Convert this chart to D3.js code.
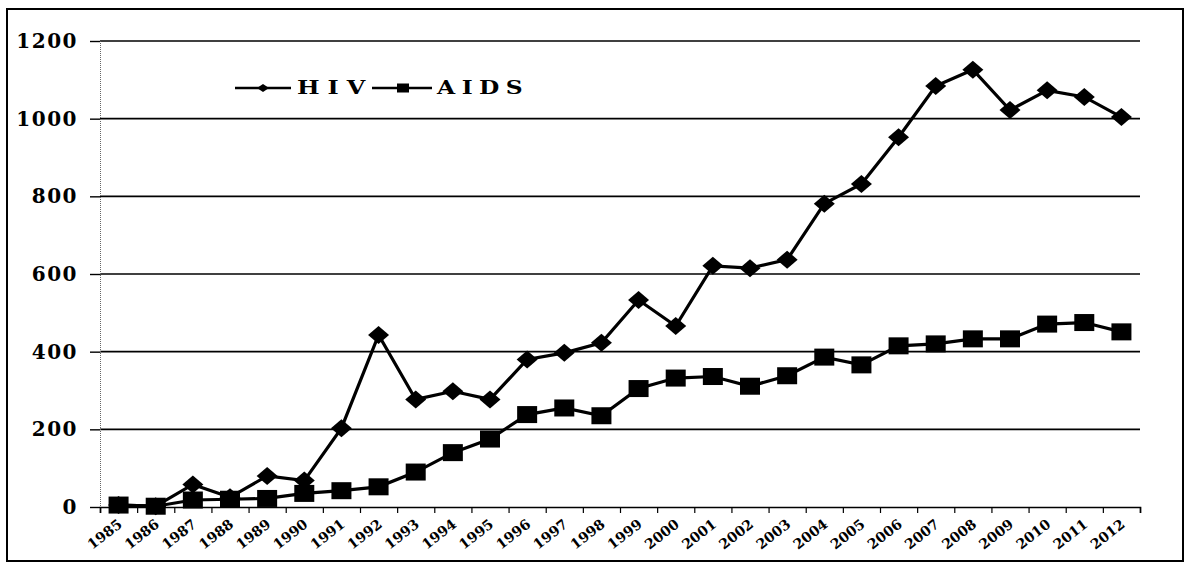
<!DOCTYPE html>
<html>
<head>
<meta charset="utf-8">
<script src="https://cdn.jsdelivr.net/npm/d3@7"></script>
<style>
  html, body { margin: 0; padding: 0; background: #fff; }
  svg { display: block; }
</style>
</head>
<body>
<svg id="chart" width="1185" height="563"></svg>
<script>
const years = ["1985","1986","1987","1988","1989","1990","1991","1992","1993","1994",
  "1995","1996","1997","1998","1999","2000","2001","2002","2003","2004",
  "2005","2006","2007","2008","2009","2010","2011","2012"];
const hivValues = [5, 2, 58, 25, 80, 68, 203, 443, 277, 298,
  277, 380, 397, 423, 533, 466, 621, 615, 637, 781,
  832, 952, 1084, 1126, 1022, 1073, 1056, 1004];
const aidsValues = [5, 2, 18, 20, 22, 35, 42, 52, 90, 140,
  175, 238, 255, 235, 305, 332, 336, 311, 338, 386,
  366, 415, 420, 433, 433, 471, 475, 451];
const yTicks = [0, 200, 400, 600, 800, 1000, 1200];
const seriesNames = ["HIV", "AIDS"];

const svg = d3.select("#chart");
const plotLeft = 100, plotRight = 1140, plotTop = 41, plotBottom = 507;
const serif = "'DejaVu Serif', 'Liberation Serif', serif";

const x = d3.scaleBand().domain(years).range([plotLeft, plotRight]).padding(0);
const xb = d3.scaleLinear().domain([0, years.length]).range([plotLeft, plotRight]);
const y = d3.scaleLinear().domain([0, 1200]).range([plotBottom, plotTop]);

// outer frame
svg.append("rect").attr("x", 7).attr("y", 9).attr("width", 1176).attr("height", 552)
  .attr("fill", "none").attr("stroke", "#000").attr("stroke-width", 2);

// gridlines
svg.append("g").selectAll("line").data(yTicks.filter(d => d > 0)).join("line")
  .attr("x1", plotLeft).attr("x2", plotRight)
  .attr("y1", d => y(d)).attr("y2", d => y(d))
  .attr("stroke", "#000").attr("stroke-width", 1.6);

// y axis
const yAxis = svg.append("g").attr("transform", `translate(${plotLeft},0)`)
  .call(d3.axisLeft(y).tickValues(yTicks).tickSize(10).tickPadding(12).tickFormat(d3.format("d")));
yAxis.select(".domain").attr("stroke", "#666").attr("stroke-width", 1).attr("stroke-dasharray", "1,1");
yAxis.selectAll(".tick line").attr("stroke", "#000").attr("stroke-width", 1.4);
yAxis.selectAll(".tick text")
  .attr("font-family", serif).attr("font-weight", "bold").attr("font-size", 20)
  .attr("letter-spacing", "1.5px").attr("fill", "#000");

// x axis (ticks at category boundaries)
const xAxis = svg.append("g").attr("transform", `translate(0,${plotBottom})`)
  .call(d3.axisBottom(xb).tickValues(d3.range(years.length + 1)).tickSize(6).tickFormat(""));
xAxis.select(".domain").attr("stroke", "#000").attr("stroke-width", 1.6);
xAxis.selectAll(".tick line").attr("stroke", "#000").attr("stroke-width", 1.2);

// x labels
svg.append("g").selectAll("text").data(years).join("text")
  .attr("transform", d => `translate(${x(d) + x.bandwidth() / 2 + 4.5},${plotBottom + 19}) rotate(-38)`)
  .attr("text-anchor", "end")
  .attr("font-family", serif).attr("font-weight", "bold").attr("font-size", 14)
  .attr("fill", "#000")
  .text(d => d);

const cx = d => x(d) + x.bandwidth() / 2;
const line = d3.line().x(d => cx(d[0])).y(d => y(d[1]));
const hivData = years.map((yr, i) => [yr, hivValues[i]]);
const aidsData = years.map((yr, i) => [yr, aidsValues[i]]);

// AIDS line + squares
svg.append("path").datum(aidsData).attr("d", line)
  .attr("fill", "none").attr("stroke", "#000").attr("stroke-width", 3.2);
svg.append("g").selectAll("rect").data(aidsData).join("rect")
  .attr("x", d => cx(d[0]) - 10).attr("y", d => y(d[1]) - 8.5)
  .attr("width", 20).attr("height", 17).attr("fill", "#000");

// HIV line + diamonds
svg.append("path").datum(hivData).attr("d", line)
  .attr("fill", "none").attr("stroke", "#000").attr("stroke-width", 3.2);
svg.append("g").selectAll("path").data(hivData).join("path")
  .attr("d", d => {
    const px = cx(d[0]), py = y(d[1]);
    return `M${px - 10.5},${py} L${px},${py - 9} L${px + 10.5},${py} L${px},${py + 9} Z`;
  })
  .attr("fill", "#000");

// legend
const lg = svg.append("g");
const legY = 88;
// HIV
lg.append("line").attr("x1", 235).attr("x2", 291).attr("y1", legY).attr("y2", legY)
  .attr("stroke", "#000").attr("stroke-width", 2.5);
lg.append("path").attr("d", `M${257},${legY} L${263},${legY - 4} L${269},${legY} L${263},${legY + 4} Z`).attr("fill", "#000");
lg.append("text").attr("transform", `translate(297,${legY + 6}) scale(1.33,1)`)
  .attr("font-family", serif).attr("font-weight", "bold").attr("font-size", 18)
  .attr("letter-spacing", "6px").attr("fill", "#000").text(seriesNames[0]);
// AIDS
lg.append("line").attr("x1", 372).attr("x2", 432).attr("y1", legY).attr("y2", legY)
  .attr("stroke", "#000").attr("stroke-width", 2.5);
lg.append("rect").attr("x", 397).attr("y", legY - 4.5).attr("width", 12).attr("height", 9).attr("fill", "#000");
lg.append("text").attr("transform", `translate(437,${legY + 6}) scale(1.3,1)`)
  .attr("font-family", serif).attr("font-weight", "bold").attr("font-size", 18)
  .attr("letter-spacing", "5px").attr("fill", "#000").text(seriesNames[1]);
</script>
</body>
</html>
